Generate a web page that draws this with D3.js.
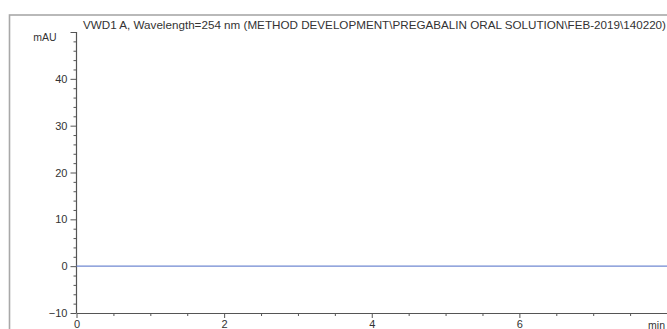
<!DOCTYPE html>
<html>
<head>
<meta charset="utf-8">
<script src="https://cdn.jsdelivr.net/npm/d3@7"></script>
<style>
  html, body { margin: 0; padding: 0; background: #fff; overflow: hidden; }
  svg { display: block; }
  text { font-family: "Liberation Sans", Arial, sans-serif; fill: #333; }
</style>
</head>
<body>
<svg id="chart" width="667" height="329"></svg>
<script>
// Detector trace: retention time (min) and absorbance (mAU)
const timeMin = [0, 1, 2, 3, 4, 5, 6, 7, 8];
const signalMAU = [0, 0, 0, 0, 0, 0, 0, 0, 0];

// Axis ticks
const yMajorTicks = [-10, 0, 10, 20, 30, 40];
const yMinorTicks = [-8, -6, -4, -2, 2, 4, 6, 8, 12, 14, 16, 18, 22, 24, 26, 28, 32, 34, 36, 38, 42, 44, 46, 48];
const yTopTick = [50];
const xMajorTicks = [0, 2, 4, 6];
const xMinorTicks = [0.5, 1, 1.5, 2.5, 3, 3.5, 4.5, 5, 5.5, 6.5, 7, 7.5];

const title = "VWD1 A, Wavelength=254 nm (METHOD DEVELOPMENT\\PREGABALIN ORAL SOLUTION\\FEB-2019\\140220)";
const yUnit = "mAU";
const xUnit = "min";

const svg = d3.select("#chart");

const x = d3.scaleLinear().domain([0, 8]).range([76.5, 667]);
const y = d3.scaleLinear().domain([-10, 50]).range([313, 32]);

// Outer panel frame
svg.append("rect")
  .attr("x", 9.5).attr("y", 15)
  .attr("width", 700).attr("height", 340)
  .attr("fill", "none")
  .attr("stroke", "#a8a8a8")
  .attr("stroke-width", 1.6);

// Title
svg.append("text")
  .attr("x", 83).attr("y", 29)
  .attr("font-size", 10.5)
  .attr("textLength", 583)
  .attr("lengthAdjust", "spacingAndGlyphs")
  .text(title);

const axisColor = "#555";

function styleAxis(g) {
  g.select(".domain").attr("stroke", axisColor).attr("stroke-width", 1.2);
  g.selectAll(".tick line").attr("stroke", axisColor).attr("stroke-width", 1);
  g.selectAll(".tick text").attr("fill", "#333").attr("font-size", 11)
    .attr("font-family", "Liberation Sans, Arial, sans-serif");
}

// Y axis: major, minor and top ticks
const gy = svg.append("g").attr("transform", `translate(${x(0)},0)`);
gy.call(d3.axisLeft(y).tickValues(yMajorTicks).tickSize(6).tickSizeOuter(0).tickPadding(3));
styleAxis(gy);
gy.select(".domain").attr("d", `M0,${y(50)}V${y(-10)}`);

const gyMinor = svg.append("g").attr("transform", `translate(${x(0)},0)`);
gyMinor.call(d3.axisLeft(y).tickValues(yMinorTicks).tickSize(3).tickFormat(""));
gyMinor.select(".domain").remove();
gyMinor.selectAll(".tick line").attr("stroke", axisColor);

const gyTop = svg.append("g").attr("transform", `translate(${x(0)},0)`);
gyTop.call(d3.axisLeft(y).tickValues(yTopTick).tickSize(6).tickFormat(""));
gyTop.select(".domain").remove();
gyTop.selectAll(".tick line").attr("stroke", axisColor);

// X axis: major and minor ticks
const gx = svg.append("g").attr("transform", `translate(0,${y(-10)})`);
gx.call(d3.axisBottom(x).tickValues(xMajorTicks).tickSize(5).tickSizeOuter(0).tickPadding(2));
styleAxis(gx);

const gxMinor = svg.append("g").attr("transform", `translate(0,${y(-10)})`);
gxMinor.call(d3.axisBottom(x).tickValues(xMinorTicks).tickSize(3).tickFormat(""));
gxMinor.select(".domain").remove();
gxMinor.selectAll(".tick line").attr("stroke", axisColor);

// Axis unit labels
svg.append("text")
  .attr("x", 45).attr("y", 41)
  .attr("text-anchor", "middle")
  .attr("font-size", 10.5)
  .text(yUnit);

svg.append("text")
  .attr("x", 665).attr("y", 328.5)
  .attr("text-anchor", "end")
  .attr("font-size", 10.5)
  .text(xUnit);

// Signal trace
const line = d3.line()
  .x((d, i) => x(timeMin[i]))
  .y(d => y(d));

svg.append("path")
  .datum(signalMAU)
  .attr("d", line)
  .attr("fill", "none")
  .attr("stroke", "#7189d2")
  .attr("stroke-width", 1.4);
</script>
</body>
</html>
